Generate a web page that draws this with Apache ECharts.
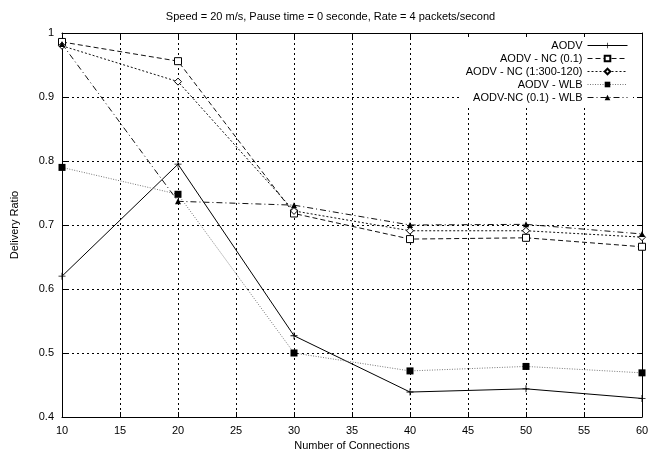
<!DOCTYPE html>
<html><head><meta charset="utf-8">
<script src="https://cdn.jsdelivr.net/npm/echarts@6/dist/echarts.min.js"></script>
<style>html,body{margin:0;padding:0;background:#fff}#c{width:661px;height:460px}</style>
</head><body><div id="c"></div>
<script>
const connections = [10, 20, 30, 40, 50, 60];
const aodv = [0.620, 0.795, 0.527, 0.439, 0.444, 0.429];
const aodvNc01 = [0.986, 0.956, 0.718, 0.678, 0.680, 0.666];
const aodvNc300 = [0.980, 0.924, 0.722, 0.691, 0.691, 0.681];
const aodvWlb = [0.790, 0.748, 0.500, 0.472, 0.479, 0.469];
const aodvNcWlb = [0.983, 0.737, 0.731, 0.700, 0.701, 0.686];
const seriesNames = ['AODV', 'AODV - NC (0.1)', 'AODV - NC (1:300-120)', 'AODV - WLB', 'AODV-NC (0.1) - WLB'];
const titleText = 'Speed = 20 m/s, Pause time = 0 seconde, Rate = 4 packets/second';

const font = 'Liberation Sans, Arial, Helvetica, sans-serif';
const pair = arr => connections.map((x, i) => [x, arr[i]]);
const plus = 'path://M4.4,0H5.6V4.4H10V5.6H5.6V10H4.4V5.6H0V4.4H4.4Z';

function mk(name, data, lineType, color, symbol, size, fill, width) {
  return {
    name, type: 'line', data: pair(data), symbol, symbolSize: size,
    lineStyle: {color, width: width || 1, type: lineType},
    itemStyle: {color: fill, borderColor: '#000', borderWidth: fill === '#fff' ? 1 : 0},
    emphasis: {disabled: true}, animation: false
  };
}

const chart = echarts.init(document.getElementById('c'), null, {renderer: 'canvas'});
const axisLine = {show: true, lineStyle: {color: '#000', width: 1}};
const tick = {show: true, inside: true, length: 5, lineStyle: {color: '#000'}};
const split = {show: true, lineStyle: {color: '#000', width: 1, type: [2, 3]}};
chart.setOption({
  animation: false,
  title: {text: titleText, left: 'center', top: 6, textStyle: {fontFamily: font, fontSize: 11, fontWeight: 'normal', color: '#000'}},
  grid: {left: 62, right: 19, top: 33, bottom: 43, containLabel: false},
  legend: {
    orient: 'vertical', right: 28, top: 37, align: 'right', itemWidth: 40, itemHeight: 7, itemGap: 0,
    padding: [2, 5, 2, 5],
    textStyle: {fontFamily: font, fontSize: 11, lineHeight: 13, color: '#000', padding: [0, 0, 0, 0]},
    lineStyle: {width: 1},
    data: seriesNames, backgroundColor: '#fff'
  },
  xAxis: [{
    type: 'value', min: 10, max: 60, interval: 5, position: 'bottom',
    name: 'Number of Connections', nameLocation: 'middle', nameGap: 22,
    nameTextStyle: {fontFamily: font, fontSize: 11, color: '#000'},
    axisLine, axisTick: tick, splitLine: split,
    axisLabel: {fontFamily: font, fontSize: 11, color: '#000', margin: 8}
  }, {
    type: 'value', min: 10, max: 60, interval: 5, position: 'top',
    axisLine, axisTick: tick, splitLine: {show: false}, axisLabel: {show: false}
  }],
  yAxis: [{
    type: 'value', min: 0.4, max: 1, interval: 0.1, position: 'left',
    name: 'Delivery Ratio', nameLocation: 'middle', nameGap: 42, nameRotate: 90,
    nameTextStyle: {fontFamily: font, fontSize: 11, color: '#000'},
    axisLine, axisTick: tick, splitLine: split,
    axisLabel: {fontFamily: font, fontSize: 11, color: '#000', margin: 8}
  }, {
    type: 'value', min: 0.4, max: 1, interval: 0.1, position: 'right',
    axisLine, axisTick: tick, splitLine: {show: false}, axisLabel: {show: false}
  }],
  series: [
    mk(seriesNames[0], aodv, 'solid', '#000', plus, 7, '#000', 1),
    mk(seriesNames[1], aodvNc01, [5, 3], '#111', 'rect', 7, '#fff', 1),
    mk(seriesNames[2], aodvNc300, [2, 2], '#111', 'diamond', 7, '#fff', 1),
    mk(seriesNames[3], aodvWlb, [1, 1.5], '#777', 'rect', 7, '#000', 1),
    mk(seriesNames[4], aodvNcWlb, [6, 3, 1, 3], '#111', 'triangle', 6, '#000', 1)
  ]
});
</script></body></html>
